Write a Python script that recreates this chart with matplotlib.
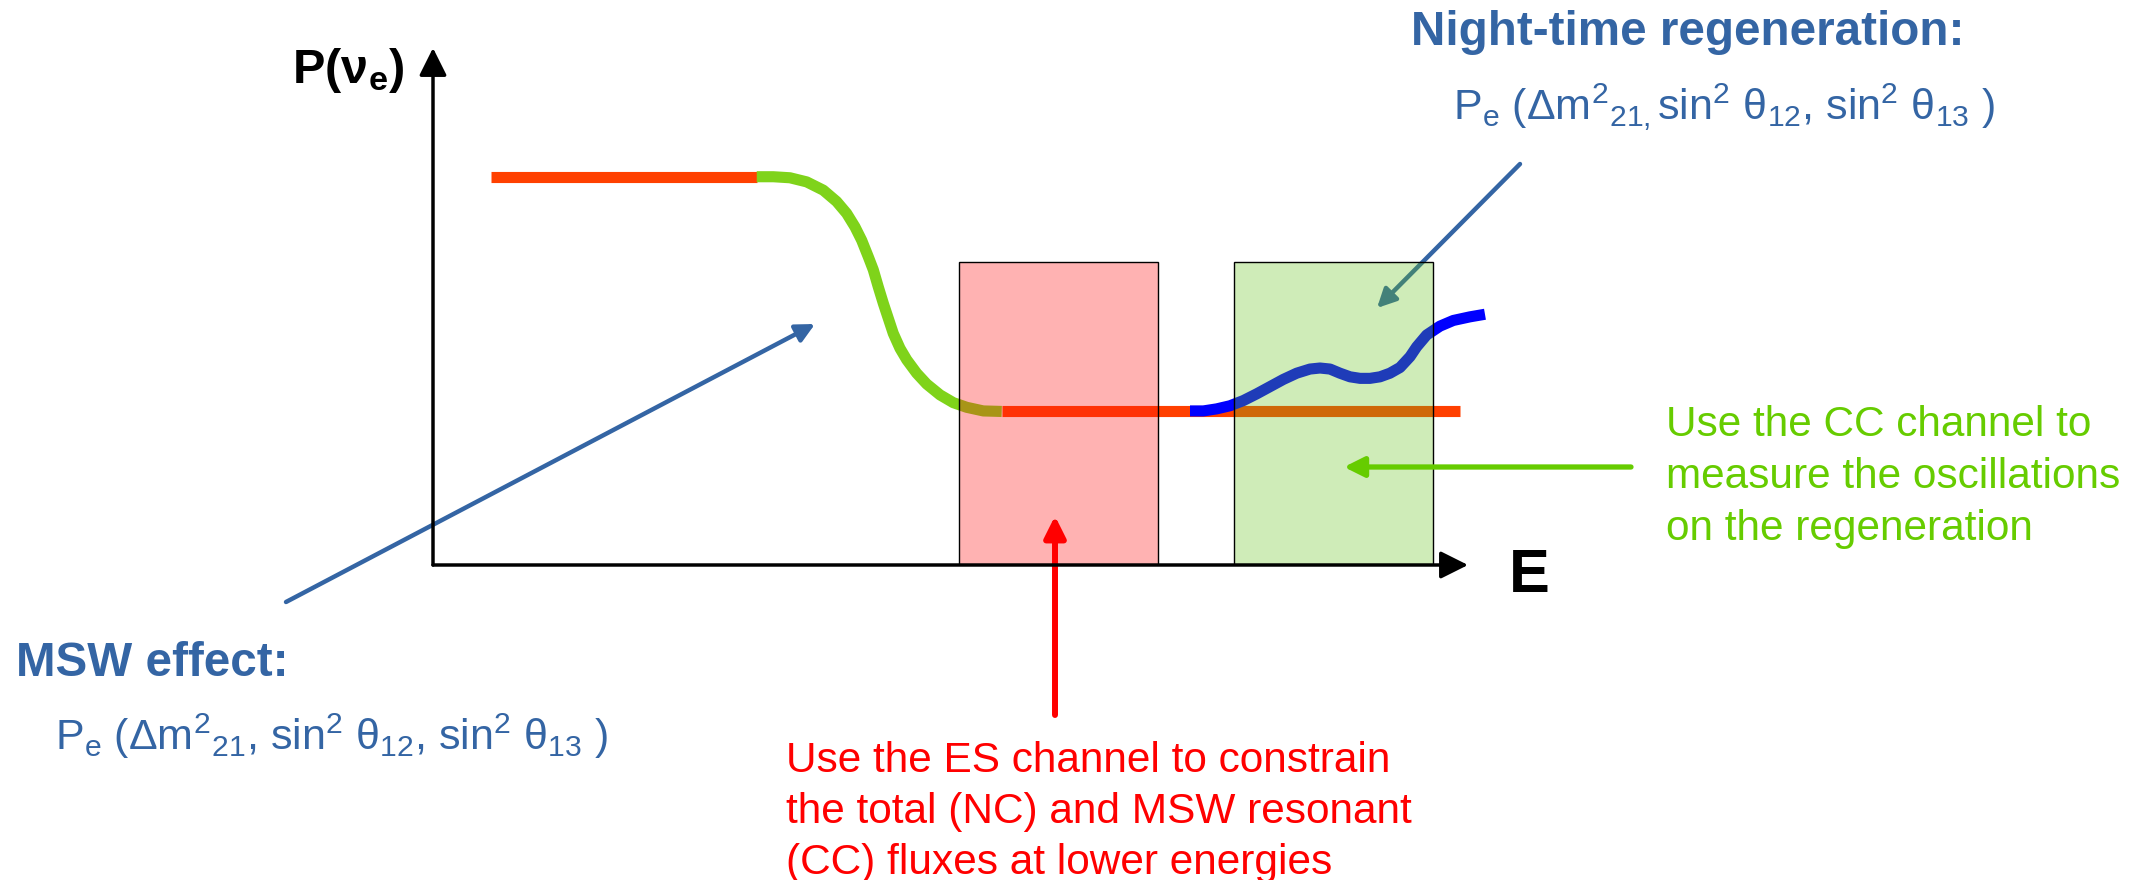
import matplotlib.pyplot as plt
from matplotlib.patches import Rectangle

plt.rcParams["font.family"] = ["Liberation Sans", "DejaVu Sans"]
plt.rcParams["mathtext.fontset"] = "custom"
plt.rcParams["mathtext.rm"] = "Liberation Sans"
plt.rcParams["mathtext.it"] = "Liberation Sans:italic"
plt.rcParams["mathtext.bf"] = "Liberation Sans:bold"

W, H = 2155, 880          # 输出像素
BLUE, GREEN, RED = "#3465a4", "#66cc00", "#ff0000"

# 示意曲线:E 任意单位 0..10,P(nu_e) 0..1
day_E = [0.56, 3.13]
day_P = [0.751, 0.751]
msw_E = [3.128, 3.288, 3.449, 3.611, 3.771, 3.900, 3.997, 4.077, 4.142, 4.206, 4.254, 4.302,
         4.351, 4.399, 4.447, 4.512, 4.577, 4.673, 4.770, 4.899, 5.027, 5.157, 5.317, 5.495]
msw_P = [0.751, 0.751, 0.749, 0.741, 0.725, 0.703, 0.680, 0.654, 0.628, 0.596, 0.571, 0.538,
         0.506, 0.477, 0.448, 0.419, 0.397, 0.371, 0.350, 0.329, 0.314, 0.305, 0.298, 0.297]
high_E = [5.495, 9.92]
high_P = [0.297, 0.297]
night_E = [7.314, 7.443, 7.572, 7.700, 7.829, 7.958, 8.087, 8.216, 8.345, 8.473, 8.570, 8.667,
           8.763, 8.860, 8.957, 9.053, 9.150, 9.246, 9.343, 9.440, 9.504, 9.601, 9.729, 9.858,
           10.019, 10.164]
night_P = [0.298, 0.298, 0.302, 0.308, 0.318, 0.331, 0.345, 0.359, 0.371, 0.379, 0.381, 0.379,
           0.371, 0.364, 0.361, 0.361, 0.364, 0.371, 0.382, 0.403, 0.422, 0.445, 0.462, 0.473,
           0.480, 0.485]
window_E = [(5.08, 7.00), (7.74, 9.66)]
window_rgba = [(1.0, 0.07, 0.07, 0.32), (0.40, 0.76, 0.10, 0.31)]
window_top = 0.586

formula = (r"P$_\mathrm{e}$ (Δm$^\mathrm{2}$$_\mathrm{21}$, sin$^\mathrm{2}$ θ$_\mathrm{12}$, "
           r"sin$^\mathrm{2}$ θ$_\mathrm{13}$ )")
formula_night = (r"P$_\mathrm{e}$ (Δm$^\mathrm{2}$$_\mathrm{21,}$sin$^\mathrm{2}$ θ$_\mathrm{12}$, "
                 r"sin$^\mathrm{2}$ θ$_\mathrm{13}$ )")
cc_lines = ["Use the CC channel to", "measure the oscillations", "on the regeneration"]
es_lines = ["Use the ES channel to constrain", "the total (NC) and MSW resonant",
            "(CC) fluxes at lower energies"]


def fp(x, y):
    """参考图像素(左上原点)→ figure pixels(左下原点)。"""
    return (x, H - y)


fig = plt.figure(figsize=(W / 100, H / 100), dpi=100)
ax = fig.add_axes([433 / W, (H - 565) / H, (1468 - 433) / W, (565 - 48) / H])
ax.set_xlim(0, 10)
ax.set_ylim(0, 1)
ax.set_axis_off()

# 曲线(压在能窗底下)
line_kw = dict(lw=8, solid_capstyle="butt", solid_joinstyle="round", clip_on=False)
ax.plot(day_E, day_P, color="#ff4000", zorder=2, **line_kw)
ax.plot(msw_E, msw_P, color="#7fd31a", zorder=2, **line_kw)
ax.plot(high_E, high_P, color="#ff4000", zorder=2, **line_kw)
ax.plot(night_E, night_P, color="#0000ff", zorder=3, **line_kw)

# 能窗
for (e0, e1), fc in zip(window_E, window_rgba):
    ax.add_patch(Rectangle((e0, 0), e1 - e0, window_top, facecolor=fc, edgecolor="black",
                           lw=1.0, zorder=5))

# 坐标轴箭头
for tip in [(10, 0), (0, 1)]:
    ax.annotate("", xy=tip, xytext=(0, 0),
                arrowprops=dict(arrowstyle="-|>", lw=2.5, color="black", mutation_scale=42,
                                shrinkA=0, shrinkB=0), zorder=8, annotation_clip=False)


def arrow(tail, tip, color, lw, ms, z):
    ax.annotate("", xy=fp(*tip), xytext=fp(*tail), xycoords="figure pixels",
                textcoords="figure pixels",
                arrowprops=dict(arrowstyle="-|>", lw=lw, color=color, mutation_scale=ms,
                                shrinkA=0, shrinkB=0), zorder=z, annotation_clip=False)


arrow((286, 602), (815, 324), BLUE, 3.2, 28, 4)
arrow((1520, 164), (1377, 308), BLUE, 3.2, 28, 4)
arrow((1631, 467), (1344, 467), GREEN, 3.8, 30, 6)
arrow((1055, 715), (1055, 516), RED, 4.3, 32, 6)


def label(x, y, s, color, size, bold=False):
    ax.annotate(s, xy=fp(x, y), xycoords="figure pixels", ha="left", va="baseline",
                color=color, fontsize=size, fontweight="bold" if bold else "normal",
                annotation_clip=False, zorder=9)


label(292, 83, r"$\mathbf{P(\nu_e)}$", "black", 35)
label(1509, 592, "E", "black", 44, bold=True)
label(1411, 45, "Night-time regeneration:", BLUE, 34.3, bold=True)
label(1453, 120, formula_night, BLUE, 31)
label(16, 676, "MSW effect:", BLUE, 34.3, bold=True)
label(55, 750, formula, BLUE, 31)
for i, s in enumerate(cc_lines):
    label(1666, 436 + 52 * i, s, GREEN, 30.5)
for i, s in enumerate(es_lines):
    label(786, 772 + 51 * i, s, RED, 30.5)

fig.savefig("out.png", dpi=100)
